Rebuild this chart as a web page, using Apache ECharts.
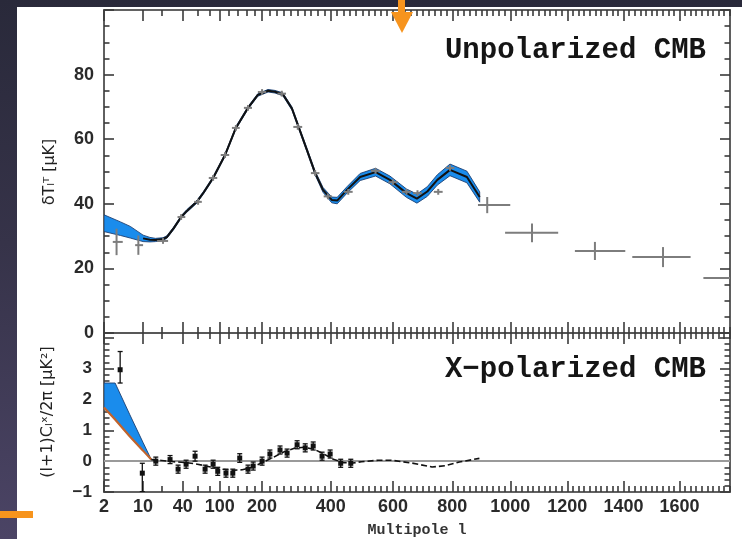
<!DOCTYPE html>
<html><head><meta charset="utf-8">
<script src="https://cdn.jsdelivr.net/npm/echarts@6/dist/echarts.min.js"></script>
<style>
html,body{margin:0;padding:0;}
#wrap{position:relative;width:742px;height:539px;background:linear-gradient(to bottom,#29293a 0%,#363349 45%,#4b4465 100%);overflow:hidden}
#paper{position:absolute;left:17px;top:7px;right:0;bottom:0;background:#fff}
#c{position:absolute;left:0;top:0;width:742px;height:539px}
</style>
</head><body><div id="wrap"><div id="paper"></div><div id="c"></div></div>
<script>
// ---------- data ----------
const xTickLabels = [2, 10, 40, 100, 200, 400, 600, 800, 1000, 1200, 1400, 1600];
const ttYTicks = [0, 20, 40, 60, 80];
const teYTicks = [-1, 0, 1, 2, 3];

// Unpolarized (TT) theory curve and its band half-width
const ttL  = [2, 4, 6, 10, 13, 16, 21, 24, 30, 38, 45, 59, 70, 87, 111, 135, 164, 189, 216, 235, 257, 283, 300, 327, 352, 376, 403, 420, 451, 493, 543, 590, 645, 680, 715, 749, 792, 850, 894];
const ttV  = [34, 32.3, 31.2, 29.3, 28.9, 28.8, 29.1, 29.7, 32.4, 35.9, 37.8, 40.6, 43.5, 48, 55.1, 63.5, 69.7, 73.7, 75, 74.7, 73.9, 69.5, 64.5, 56.7, 49.5, 44.3, 41.2, 41, 44.3, 48.3, 49.8, 47.4, 43.3, 41.6, 43.8, 47.4, 50.5, 48.3, 42.1];
const ttHW = [2.6, 2.1, 1.8, 1.0, 0.7, 0.5, 0.4, 0.4, 0.4, 0.4, 0.4, 0.4, 0.4, 0.4, 0.4, 0.4, 0.4, 0.4, 0.4, 0.4, 0.45, 0.5, 0.5, 0.55, 0.6, 0.75, 0.9, 1.0, 1.0, 1.1, 1.2, 1.2, 1.3, 1.4, 1.5, 1.6, 1.8, 1.8, 1.6];

// TT measured points (crosses)
const ttPtL   = [3.4, 8.3, 21, 38, 61, 87, 111, 135, 164, 200, 254, 300, 352, 391, 455, 543, 600, 645, 682, 752, 792, 920, 1076, 1298, 1541, 1830];
const ttPtV   = [28.2, 27.2, 28.5, 35.9, 40.6, 48, 55.1, 63.5, 69.7, 74.6, 74.1, 63.8, 49.5, 42.3, 43.7, 50.2, 46.7, 43.7, 43.3, 43.7, 51.1, 39.6, 31, 25.4, 23.5, 17];
const ttPtLo  = [2.9, 7.3, 17, 34, 55, 79, 102, 126, 154, 189, 242, 287, 339, 378, 441, 528, 585, 630, 667, 737, 777, 888, 982, 1227, 1431, 1686];
const ttPtHi  = [4.4, 10, 25, 43, 67, 95, 120, 144, 174, 211, 266, 313, 365, 404, 469, 558, 615, 660, 697, 767, 807, 1000, 1168, 1406, 1640, 1980];
const ttPtErr = [4.1, 3, 0.9, 0.9, 0.9, 0.9, 0.9, 0.9, 0.9, 0.9, 0.9, 0.9, 0.9, 0.9, 0.9, 0.9, 0.9, 0.9, 0.9, 0.9, 0.9, 2.5, 2.9, 2.8, 3.1, 3];

// X-polarized (TE) low-l band
const teBandL  = [2, 3.2, 5.9, 10, 13.7];
const teBandHi = [2.53, 2.53, 1.5, 0.6, 0.05];
const teBandLo = [1.74, 1.35, 0.8, 0.34, 0.05];

// TE theory curve
const teL = [13.7, 20, 30, 45, 60, 80, 100, 125, 150, 175, 200, 230, 260, 290, 320, 350, 380, 410, 440, 470, 497, 552, 594, 662, 731, 776, 824, 893];
const teV = [0.05, 0.02, -0.02, -0.05, -0.1, -0.18, -0.25, -0.3, -0.28, -0.2, -0.05, 0.12, 0.3, 0.42, 0.45, 0.38, 0.22, 0.05, -0.05, -0.06, -0.02, 0.03, 0.03, -0.06, -0.19, -0.15, -0.03, 0.09];

// TE measured points
const tePtL  = [3.95, 9.7, 16.2, 26.7, 34.6, 44, 56.4, 72.5, 87, 96, 113, 128, 144, 164, 177, 200, 221, 249, 269, 298, 322, 346, 373, 398, 431, 463];
const tePtV  = [2.96, -0.39, 0.0, 0.05, -0.26, -0.1, 0.16, -0.26, -0.1, -0.33, -0.39, -0.39, 0.1, -0.26, -0.16, 0.0, 0.23, 0.36, 0.26, 0.53, 0.43, 0.49, 0.16, 0.23, -0.07, -0.07];
const tePtLo = [2.53, -0.99, -0.13, -0.08, -0.39, -0.23, 0.0, -0.39, -0.23, -0.46, -0.52, -0.52, -0.04, -0.39, -0.29, -0.13, 0.1, 0.23, 0.13, 0.4, 0.3, 0.36, 0.03, 0.1, -0.2, -0.2];
const tePtHi = [3.55, -0.07, 0.13, 0.18, -0.13, 0.03, 0.32, -0.13, 0.03, -0.2, -0.26, -0.26, 0.24, -0.13, -0.03, 0.13, 0.36, 0.49, 0.39, 0.66, 0.56, 0.62, 0.29, 0.36, 0.06, 0.06];

// ---------- scale: multipole axis is linear + log hybrid ----------
const LOG_W = 87;
const sOf = l => l + LOG_W * Math.log(l);
const L_MIN = 2, L_MAX = 1782;
const X_MIN = sOf(L_MIN), X_MAX = sOf(L_MAX);

const majS = xTickLabels.map(sOf);
const minorL = [];
for (let l = 20; l < L_MAX; l += 20) if (!xTickLabels.includes(l)) minorL.push(l);
const minS = minorL.map(sOf);
const teMinor = [];
for (let k = -5; k <= 20; k++) if (k % 5 !== 0) teMinor.push(k / 5);
const ttMinor = [];
for (let v = 5; v < 100; v += 5) if (v % 20 !== 0) ttMinor.push(v);

const FRAME = '#5a5a5a', TICK = '#3a3a3a', BLUE = '#1a8cec', EDGE = '#1d3f73';
const LABEL_FONT = 'Liberation Sans';
const TW = 1.6;

function xLabelFmt(v) {
  const i = majS.findIndex(s => Math.abs(s - v) < 1e-6);
  return i >= 0 ? String(xTickLabels[i]) : '';
}
function xAxisDef(grid, pos, major, showLabel) {
  return {
    type: 'value', gridIndex: grid, position: pos, offset: 0, min: X_MIN, max: X_MAX,
    axisLine: { show: true, onZero: false, lineStyle: { color: FRAME, width: 1.6 } },
    axisTick: { show: true, inside: true, length: major ? 11 : 6, customValues: major ? majS : minS,
      lineStyle: { color: TICK, width: TW } },
    axisLabel: { show: showLabel, customValues: majS, formatter: xLabelFmt, margin: 6,
      fontSize: 18, fontWeight: 'bold', color: '#2a2a2a', fontFamily: LABEL_FONT },
    splitLine: { show: false }, minorTick: { show: false }
  };
}
function yAxisDef(grid, pos, major, showLabel, min, max, majorVals, minorVals, labelVals, fs, margin) {
  return {
    type: 'value', gridIndex: grid, position: pos, offset: 0, min: min, max: max,
    axisLine: { show: true, onZero: false, lineStyle: { color: FRAME, width: 1.6 } },
    axisTick: { show: true, inside: true, length: major ? 10 : 5.5, customValues: major ? majorVals : minorVals,
      lineStyle: { color: TICK, width: TW } },
    axisLabel: { show: showLabel, customValues: labelVals, formatter: v => v < 0 ? '\u2212' + Math.abs(v) : String(v),
      margin: margin, fontSize: fs, fontWeight: 'bold', color: '#2a2a2a', fontFamily: LABEL_FONT },
    splitLine: { show: false }, minorTick: { show: false }
  };
}

function bandSeries(xi, yi, L, hi, lo) {
  return {
    type: 'custom', xAxisIndex: xi, yAxisIndex: yi, silent: true, z: 2, clip: true,
    data: [[X_MIN, 0]],
    renderItem: (p, api) => {
      const pts = [];
      for (let i = 0; i < L.length; i++) pts.push(api.coord([sOf(L[i]), hi[i]]));
      for (let i = L.length - 1; i >= 0; i--) pts.push(api.coord([sOf(L[i]), lo[i]]));
      return { type: 'polygon', shape: { points: pts }, style: { fill: BLUE, stroke: EDGE, lineWidth: 0.9 } };
    }
  };
}

const ttUp = ttV.map((v, i) => v + ttHW[i]);
const ttDn = ttV.map((v, i) => v - ttHW[i]);
const ttMajorY = [0, 20, 40, 60, 80, 100];
const teMajorY = [-1, 0, 1, 2, 3, 4];

const option = {
  animation: false,
  backgroundColor: 'transparent',
  grid: [
    { left: 104, top: 10, width: 626, height: 323 },
    { left: 104, top: 333, width: 626, height: 159 }
  ],
  xAxis: [
    xAxisDef(0, 'bottom', true, false), xAxisDef(0, 'bottom', false, false),
    xAxisDef(0, 'top', true, false), xAxisDef(0, 'top', false, false),
    xAxisDef(1, 'bottom', true, true), xAxisDef(1, 'bottom', false, false),
    xAxisDef(1, 'top', true, false), xAxisDef(1, 'top', false, false)
  ],
  yAxis: [
    yAxisDef(0, 'left', true, true, 0, 100, ttMajorY, ttMinor, ttYTicks, 18, 10),
    yAxisDef(0, 'left', false, false, 0, 100, ttMajorY, ttMinor, ttYTicks, 18, 10),
    yAxisDef(0, 'right', true, false, 0, 100, ttMajorY, ttMinor, ttYTicks, 18, 10),
    yAxisDef(0, 'right', false, false, 0, 100, ttMajorY, ttMinor, ttYTicks, 18, 10),
    yAxisDef(1, 'left', true, true, -1, 4.15, teMajorY, teMinor, teYTicks, 17, 12),
    yAxisDef(1, 'left', false, false, -1, 4.15, teMajorY, teMinor, teYTicks, 17, 12),
    yAxisDef(1, 'right', true, false, -1, 4.15, teMajorY, teMinor, teYTicks, 17, 12),
    yAxisDef(1, 'right', false, false, -1, 4.15, teMajorY, teMinor, teYTicks, 17, 12)
  ],
  series: [
    bandSeries(0, 0, ttL, ttUp, ttDn),
    {
      type: 'line', xAxisIndex: 0, yAxisIndex: 0, symbol: 'none', silent: true, z: 3,
      data: ttL.slice(3).map((l, i) => [sOf(l), ttV[i + 3]]),
      lineStyle: { color: '#111', width: 2 }
    },
    {
      type: 'custom', xAxisIndex: 0, yAxisIndex: 0, silent: true, z: 4, clip: true,
      encode: { x: [0, 2, 3], y: [1, 4, 5] },
      data: ttPtL.map((l, i) => [sOf(l), ttPtV[i], sOf(ttPtLo[i]), sOf(ttPtHi[i]), ttPtV[i] - ttPtErr[i], ttPtV[i] + ttPtErr[i]]),
      renderItem: (p, api) => {
        const h0 = api.coord([api.value(2), api.value(1)]);
        const h1 = api.coord([api.value(3), api.value(1)]);
        const v0 = api.coord([api.value(0), api.value(4)]);
        const v1 = api.coord([api.value(0), api.value(5)]);
        const st = { stroke: '#7d7d7d', lineWidth: 2 };
        return { type: 'group', children: [
          { type: 'line', shape: { x1: h0[0], y1: h0[1], x2: h1[0], y2: h1[1] }, style: st },
          { type: 'line', shape: { x1: v0[0], y1: v0[1], x2: v1[0], y2: v1[1] }, style: st }
        ] };
      }
    },
    bandSeries(4, 4, teBandL, teBandHi, teBandLo),
    {
      type: 'line', xAxisIndex: 4, yAxisIndex: 4, symbol: 'none', silent: true, z: 3,
      data: teBandL.map((l, i) => [sOf(l), teBandLo[i]]),
      lineStyle: { color: '#c0632c', width: 2.2 }
    },
    {
      type: 'line', xAxisIndex: 4, yAxisIndex: 4, symbol: 'none', silent: true, z: 3,
      data: teL.map((l, i) => [sOf(l), teV[i]]),
      lineStyle: { color: '#111', width: 1.6, type: [6, 3] },
      markLine: {
        silent: true, symbol: 'none', label: { show: false }, z: 1,
        lineStyle: { color: '#9a9a9a', width: 1.8, type: 'solid' },
        data: [{ yAxis: 0 }]
      }
    },
    {
      type: 'custom', xAxisIndex: 4, yAxisIndex: 4, silent: true, z: 4, clip: true,
      encode: { x: 0, y: [1, 2, 3] },
      data: tePtL.map((l, i) => [sOf(l), tePtV[i], tePtLo[i], tePtHi[i]]),
      renderItem: (p, api) => {
        const c = api.coord([api.value(0), api.value(1)]);
        const lo = api.coord([api.value(0), api.value(2)]);
        const hi = api.coord([api.value(0), api.value(3)]);
        const st = { stroke: '#111', lineWidth: 1.3 };
        return { type: 'group', children: [
          { type: 'line', shape: { x1: lo[0], y1: lo[1], x2: hi[0], y2: hi[1] }, style: st },
          { type: 'line', shape: { x1: lo[0] - 2.5, y1: lo[1], x2: lo[0] + 2.5, y2: lo[1] }, style: st },
          { type: 'line', shape: { x1: hi[0] - 2.5, y1: hi[1], x2: hi[0] + 2.5, y2: hi[1] }, style: st },
          { type: 'rect', shape: { x: c[0] - 2.5, y: c[1] - 2.5, width: 5, height: 5 }, style: { fill: '#111' } }
        ] };
      }
    }
  ],
  graphic: [
    { type: 'text', x: 706, y: 51, z: 50,
      style: { text: 'Unpolarized CMB', font: 'bold 29px "Liberation Mono"', fill: '#151515', align: 'right', verticalAlign: 'middle' } },
    { type: 'text', x: 706, y: 370, z: 50,
      style: { text: 'X\u2212polarized CMB', font: 'bold 29px "Liberation Mono"', fill: '#151515', align: 'right', verticalAlign: 'middle' } },
    { type: 'text', x: 417, y: 530, z: 50,
      style: { text: 'Multipole l', font: 'bold 15px "Liberation Mono"', fill: '#333', align: 'center', verticalAlign: 'middle' } },
    { type: 'text', x: 50, y: 172, rotation: Math.PI / 2, z: 50,
      style: { text: '\u03b4T\u2097\u1d40 [\u03bcK]', font: '16px "DejaVu Sans"', fill: '#222', align: 'center', verticalAlign: 'middle' } },
    { type: 'text', x: 48, y: 412, rotation: Math.PI / 2, z: 50,
      style: { text: '(l+1)C\u2097\u02e3/2\u03c0 [\u03bcK\u00b2]', font: '16px "DejaVu Sans"', fill: '#222', align: 'center', verticalAlign: 'middle' } },
    { type: 'rect', z: 100, shape: { x: 398, y: 0, width: 7, height: 13 }, style: { fill: '#f7941d' } },
    { type: 'polygon', z: 100, shape: { points: [[391, 12], [413, 12], [402, 33]] }, style: { fill: '#f7941d' } },
    { type: 'rect', z: 100, shape: { x: 0, y: 511, width: 33, height: 7 }, style: { fill: '#f7941d' } }
  ]
};

const chart = echarts.init(document.getElementById('c'), null, { renderer: 'canvas' });
chart.setOption(option);
</script>
</body></html>
